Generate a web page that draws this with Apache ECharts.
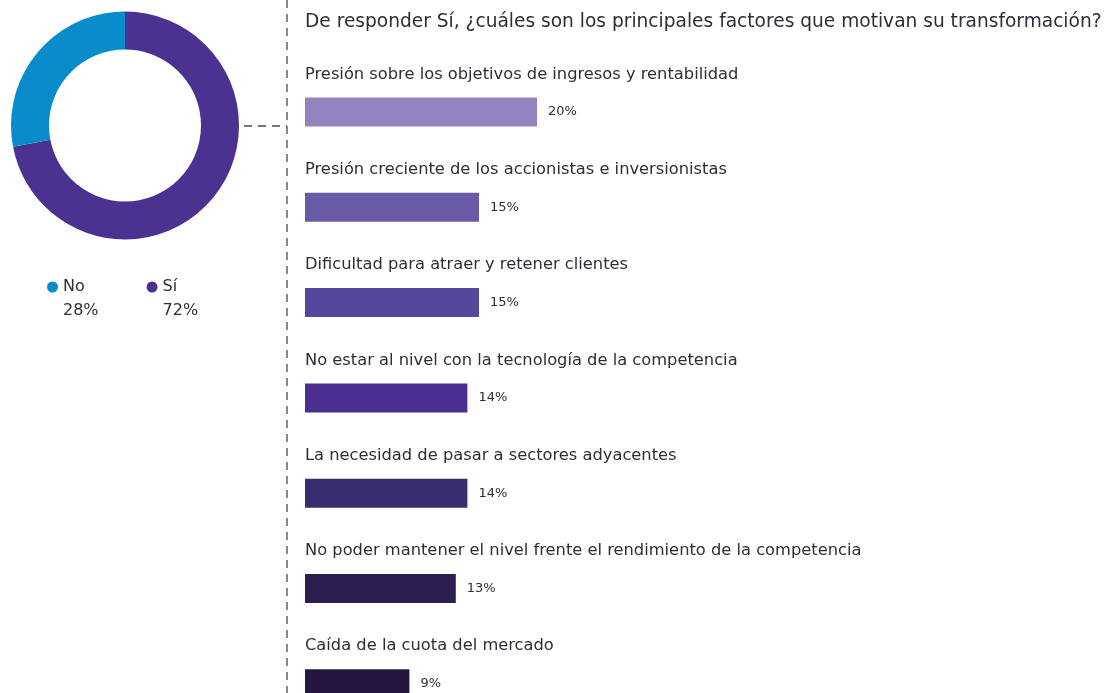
<!DOCTYPE html>
<html>
<head>
<meta charset="utf-8">
<script src="https://cdn.jsdelivr.net/npm/echarts@6/dist/echarts.min.js"></script>
<style>
  html, body { margin: 0; padding: 0; background: #ffffff; }
  #chart { width: 1107px; height: 693px; }
</style>
</head>
<body>
<div id="chart"></div>
<script>
// Donut: share of respondents answering No / Sí
const donutNames = ['Sí', 'No'];
const donutValues = [72, 28];
const donutColors = ['#4B3290', '#0A8BCB'];

// Bars: main drivers of transformation among those answering Sí
const factorLabels = [
  'Presión sobre los objetivos de ingresos y rentabilidad',
  'Presión creciente de los accionistas e inversionistas',
  'Dificultad para atraer y retener clientes',
  'No estar al nivel con la tecnología de la competencia',
  'La necesidad de pasar a sectores adyacentes',
  'No poder mantener el nivel frente el rendimiento de la competencia',
  'Caída de la cuota del mercado'
];
const factorValues = [20, 15, 15, 14, 14, 13, 9];
const factorColors = ['#9384BF', '#6A5BA8', '#54479C', '#4A2F91', '#392C6F', '#2B1E50', '#241640'];

const titleText = 'De responder Sí, ¿cuáles son los principales factores que motivan su transformación?';

const FONT = '"DejaVu Sans", sans-serif';
const TEXT = '#2E2E38';

const chart = echarts.init(document.getElementById('chart'), null, { renderer: 'canvas' });

chart.setOption({
  animation: false,
  textStyle: { fontFamily: FONT },
  title: {
    text: titleText,
    left: 300,
    top: 8,
    textStyle: { fontFamily: FONT, fontSize: 18.6, fontWeight: 'normal', color: TEXT }
  },
  legend: {
    data: ['No', 'Sí'],
    left: 42,
    top: 246,
    icon: 'circle',
    itemWidth: 11,
    itemHeight: 11,
    itemGap: 48,
    // blank first line keeps the name level with the marker, value below it
    formatter: function (name) {
      const i = donutNames.indexOf(name);
      return ' \n' + name + '\n' + donutValues[i] + '%';
    },
    textStyle: { fontFamily: FONT, fontSize: 16, color: TEXT, lineHeight: 24 }
  },
  grid: { left: 305, top: 64.4, width: 696, height: 667, outerBoundsMode: 'none', containLabel: false },
  xAxis: {
    type: 'value',
    min: 0,
    max: 60,
    show: false
  },
  yAxis: {
    type: 'category',
    inverse: true,
    data: factorLabels,
    show: false
  },
  series: [
    {
      type: 'pie',
      center: [125, 125.5],
      radius: [76, 114],
      startAngle: 90,
      clockwise: true,
      label: { show: false },
      labelLine: { show: false },
      emphasis: { disabled: true },
      data: donutNames.map((n, i) => ({ name: n, value: donutValues[i], itemStyle: { color: donutColors[i] } }))
    },
    {
      type: 'bar',
      barWidth: 29,
      data: factorValues.map((v, i) => ({ value: v, itemStyle: { color: factorColors[i] } })),
      label: {
        show: true,
        position: 'right',
        distance: 11,
        formatter: '{c}%',
        fontFamily: FONT,
        fontSize: 13,
        color: TEXT
      }
    },
    {
      // category names sit above each bar
      type: 'bar',
      barWidth: 29,
      barGap: '-100%',
      silent: true,
      itemStyle: { color: 'rgba(0,0,0,0)' },
      data: factorValues,
      label: {
        show: true,
        position: [0, -23],
        align: 'left',
        verticalAlign: 'middle',
        formatter: '{b}',
        fontFamily: FONT,
        fontSize: 16.3,
        color: TEXT
      }
    }
  ],
  graphic: [
    {
      type: 'line',
      shape: { x1: 287, y1: 0, x2: 287, y2: 693 },
      style: { stroke: '#4a4a4a', lineWidth: 1.3, lineDash: [8, 6] }
    },
    {
      type: 'line',
      shape: { x1: 244, y1: 126, x2: 287, y2: 126 },
      style: { stroke: '#4a4a4a', lineWidth: 1.3, lineDash: [8, 6] }
    }
  ]
});
</script>
</body>
</html>
